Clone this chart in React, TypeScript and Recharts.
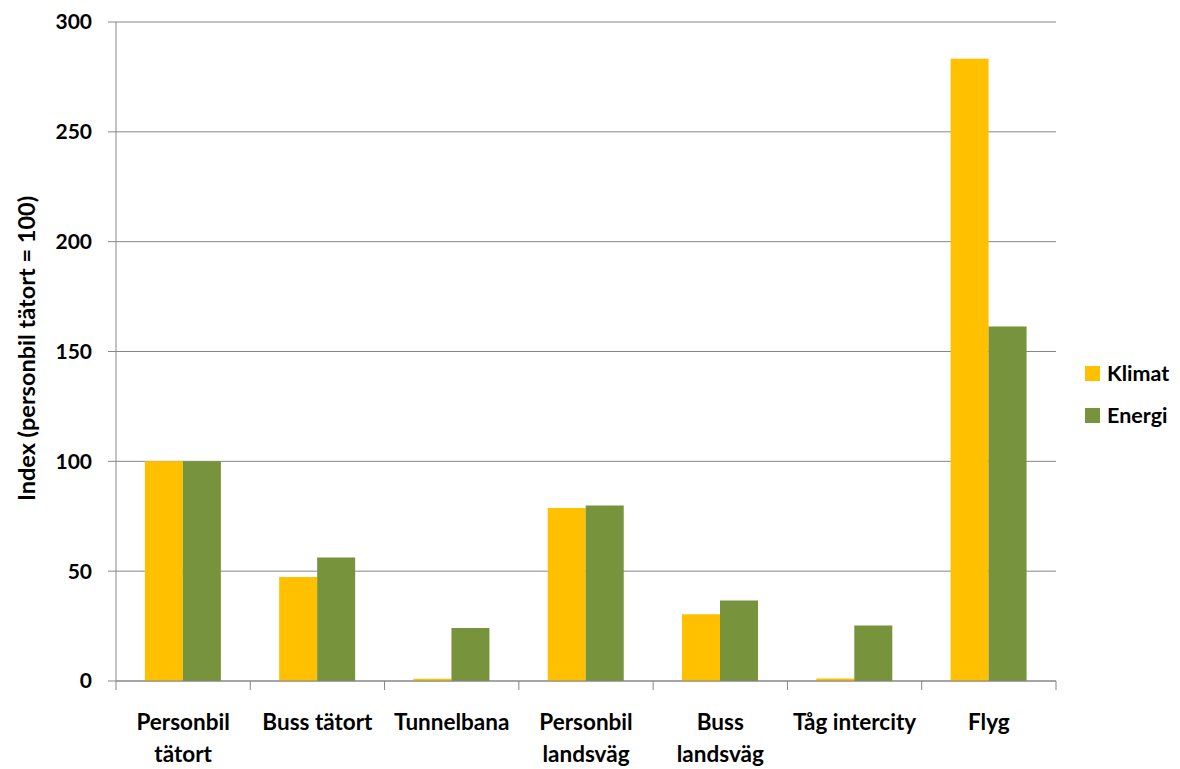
import { BarChart, Bar, XAxis, YAxis, CartesianGrid } from 'recharts';

const categories = [
  'Personbil\ntätort',
  'Buss tätort',
  'Tunnelbana',
  'Personbil\nlandsväg',
  'Buss\nlandsväg',
  'Tåg intercity',
  'Flyg',
];
const klimat = [100, 47.3, 1, 78.8, 30.4, 1.1, 283.3];
const energi = [100, 56.2, 24.1, 79.9, 36.6, 25.3, 161.4];
const yTicks = [0, 50, 100, 150, 200, 250, 300];

const KLIMAT = '#FFC000';
const ENERGI = '#77933C';
const AXIS = '#868686';
const FONT = 'Lato, "Open Sans", sans-serif';

const data = categories.map((name, i) => ({ name, klimat: klimat[i], energi: energi[i] }));

const PLOT_LEFT = 116;
const PLOT_RIGHT = 1056;
const BAND = (PLOT_RIGHT - PLOT_LEFT) / categories.length;

function CategoryTick(props: any) {
  const { x, y, payload, index } = props;
  const lines = String(payload.value).split('\n');
  return (
    <g>
      <line x1={x - BAND / 2} x2={x - BAND / 2} y1={y - 8} y2={y + 1} stroke={AXIS} strokeWidth={1} />
      {index === categories.length - 1 && (
        <line x1={x + BAND / 2} x2={x + BAND / 2} y1={y - 8} y2={y + 1} stroke={AXIS} strokeWidth={1} />
      )}
      <text x={x} y={y + 41} textAnchor="middle" fontFamily={FONT} fontWeight={700} fontSize={22.5} fill="#000">
        {lines.map((l, i) => (
          <tspan key={i} x={x} dy={i === 0 ? 0 : 32}>
            {l}
          </tspan>
        ))}
      </text>
    </g>
  );
}

function YTitle(props: any) {
  const { viewBox } = props;
  const cx = 26;
  const cy = viewBox.y + viewBox.height / 2 - 3;
  return (
    <text
      x={cx}
      y={cy}
      transform={`rotate(-90, ${cx}, ${cy})`}
      textAnchor="middle"
      dominantBaseline="central"
      fontFamily={FONT}
      fontWeight={700}
      fontSize={23.5}
      fill="#000"
    >
      Index (personbil tätort = 100)
    </text>
  );
}

export default function App() {
  return (
    <div style={{ position: 'absolute', left: 0, top: 0, width: 1180, height: 769, background: '#fff' }}>
      <BarChart
        width={1180}
        height={769}
        data={data}
        margin={{ top: 22, right: 1180 - PLOT_RIGHT, bottom: 0, left: 0 }}
        barCategoryGap="21.5%"
        barGap={0}
      >
        <CartesianGrid vertical={false} stroke={AXIS} strokeWidth={1} />
        <XAxis
          dataKey="name"
          interval={0}
          height={88}
          axisLine={{ stroke: AXIS }}
          tickLine={false}
          tick={<CategoryTick />}
        />
        <YAxis
          domain={[0, 300]}
          ticks={yTicks}
          width={PLOT_LEFT}
          axisLine={{ stroke: AXIS }}
          tickLine={{ stroke: AXIS }}
          tickSize={8}
          tickMargin={16}
          tick={{ fontFamily: FONT, fontWeight: 700, fontSize: 21, fill: '#000' }}
          label={<YTitle />}
        />
        <Bar dataKey="klimat" fill={KLIMAT} isAnimationActive={false} />
        <Bar dataKey="energi" fill={ENERGI} isAnimationActive={false} />
      </BarChart>
      <div style={{ position: 'absolute', left: 1085, top: 360, fontFamily: FONT, fontWeight: 700, fontSize: 21.5 }}>
        {[
          { label: 'Klimat', color: KLIMAT },
          { label: 'Energi', color: ENERGI },
        ].map((item) => (
          <div key={item.label} style={{ display: 'flex', alignItems: 'center', height: 26, marginBottom: 16 }}>
            <span style={{ width: 15, height: 15, background: item.color, marginRight: 7, display: 'inline-block' }} />
            <span>{item.label}</span>
          </div>
        ))}
      </div>
    </div>
  );
}
